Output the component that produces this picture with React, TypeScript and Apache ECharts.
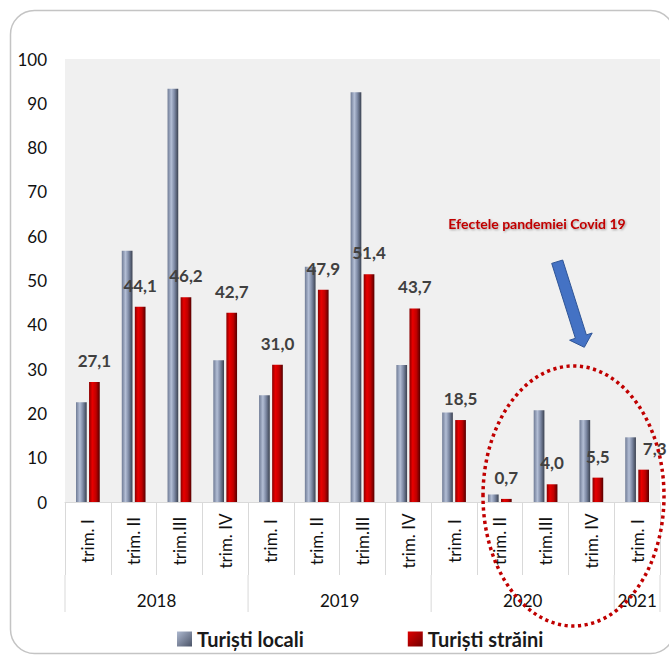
import React, { useEffect, useRef } from "react";
import * as echarts from "echarts";

// ---- data ----
const quarterLabels = ["trim. I", "trim. II", "trim.III", "trim. IV", "trim. I", "trim. II", "trim.III", "trim. IV", "trim. I", "trim. II", "trim.III", "trim. IV", "trim. I"];
const categoryKeys = ["2018 Q1", "2018 Q2", "2018 Q3", "2018 Q4", "2019 Q1", "2019 Q2", "2019 Q3", "2019 Q4", "2020 Q1", "2020 Q2", "2020 Q3", "2020 Q4", "2021 Q1"];
const yearLabels = ["2018", "2019", "2020", "2021"];
const yearCounts = [4, 4, 4, 1];
const localTourists = [22.5, 56.7, 93.3, 32.0, 24.1, 53.1, 92.5, 30.9, 20.2, 1.7, 20.7, 18.5, 14.6];
const foreignTourists = [27.1, 44.1, 46.2, 42.7, 31.0, 47.9, 51.4, 43.7, 18.5, 0.7, 4.0, 5.5, 7.3];
const seriesNames = ["Turiști locali", "Turiști străini"];
const yMin = 0;
const yMax = 100;
const yInterval = 10;
const annotationText = "Efectele pandemiei Covid 19";

const FONT = "Lato, 'Open Sans', sans-serif";

const grayGrad = new echarts.graphic.LinearGradient(0, 0, 1, 0, [
  { offset: 0, color: "#6f7b95" },
  { offset: 0.35, color: "#b3bed5" },
  { offset: 0.65, color: "#7c88a3" },
  { offset: 1, color: "#3a4150" },
]);
const redGrad = new echarts.graphic.LinearGradient(0, 0, 1, 0, [
  { offset: 0, color: "#8a0000" },
  { offset: 0.3, color: "#e80000" },
  { offset: 0.65, color: "#c00000" },
  { offset: 1, color: "#560000" },
]);
const grayIcon = new echarts.graphic.LinearGradient(0, 0, 1, 1, [
  { offset: 0, color: "#aeb9d0" },
  { offset: 1, color: "#4a5367" },
]);
const redIcon = new echarts.graphic.LinearGradient(0, 0, 1, 1, [
  { offset: 0, color: "#e00000" },
  { offset: 1, color: "#700000" },
]);

const fmt = (v: number) => v.toFixed(1).replace(".", ",");

export default function App() {
  const ref = useRef<HTMLDivElement>(null);
  useEffect(() => {
    if (!ref.current) return;
    const chart = echarts.init(ref.current, null, { renderer: "svg" });
    const option: any = {
      animation: false,
      backgroundColor: "#ffffff",
      textStyle: { fontFamily: FONT },
      grid: {
        left: 65,
        right: 9,
        top: 59,
        bottom: 158,
        show: true,
        backgroundColor: "#f0f0f0",
        borderWidth: 0,
        containLabel: false,
        outerBoundsMode: "none",
      },
      legend: {
        data: [
          { name: seriesNames[0], itemStyle: { color: grayIcon } },
          { name: seriesNames[1], itemStyle: { color: redIcon } },
        ],
        left: 172,
        top: 624,
        itemWidth: 15,
        itemHeight: 15,
        itemGap: 104,
        icon: "path://M0 0H10V10H0Z",
        textStyle: { fontFamily: FONT, fontWeight: "bold", fontSize: 20, color: "#1a1a1a" },
      },
      xAxis: {
        type: "category",
        data: categoryKeys,
        boundaryGap: true,
        axisLine: { show: true, lineStyle: { color: "#d9d9d9", width: 1 } },
        axisTick: { show: true, length: 73, interval: 0, lineStyle: { color: "#d9d9d9", width: 1 } },
        axisLabel: {
          interval: 0,
          rotate: 90,
          align: "center",
          verticalAlign: "middle",
          margin: 39,
          fontFamily: FONT,
          fontSize: 17,
          color: "#111",
          formatter: (_v: string, i: number) => quarterLabels[i],
        },
        splitLine: { show: false },
      },
      yAxis: {
        type: "value",
        min: yMin,
        max: yMax,
        interval: yInterval,
        axisLine: { show: false },
        axisTick: { show: false },
        splitLine: { show: false },
        axisLabel: { fontFamily: FONT, fontSize: 17, color: "#111", margin: 18 },
      },
      series: [
        {
          name: seriesNames[0],
          type: "bar",
          data: localTourists,
          barWidth: 10.7,
          barGap: "22%",
          itemStyle: { color: grayGrad },
        },
        {
          name: seriesNames[1],
          type: "bar",
          data: foreignTourists.map((v, i) =>
            i === foreignTourists.length - 1 ? { value: v, label: { offset: [11, 0] } } : v
          ),
          barWidth: 10.7,
          barGap: "22%",
          itemStyle: { color: redGrad },
          label: {
            show: true,
            position: "top",
            distance: 13,
            fontFamily: FONT,
            fontWeight: "bold",
            fontSize: 17,
            color: "#404040",
            formatter: (p: any) => fmt(p.value),
          },
        },
      ],
    };
    chart.setOption(option);

    const cx = (i: number) => chart.convertToPixel({ xAxisIndex: 0 }, categoryKeys[i]) as number;
    const bw = cx(1) - cx(0);
    const bound = (i: number) => cx(0) - bw / 2 + i * bw;
    const yBase = chart.convertToPixel({ yAxisIndex: 0 }, 0) as number;

    const elements: any[] = [];
    elements.push({
      type: "rect",
      shape: { x: 10.5, y: 10.5, width: 664, height: 643, r: 24 },
      style: { fill: "none", stroke: "#c4c4c4", lineWidth: 1.5 },
      z: 1,
    });
    let start = 0;
    const boundaries = [0];
    yearCounts.forEach((c) => {
      start += c;
      boundaries.push(start);
    });
    boundaries.forEach((b) => {
      elements.push({
        type: "line",
        shape: { x1: bound(b), y1: yBase + 73, x2: bound(b), y2: yBase + 110 },
        style: { stroke: "#d9d9d9", lineWidth: 1 },
        z: 5,
      });
    });
    for (let k = 0; k < yearLabels.length; k++) {
      const mid = (bound(boundaries[k]) + bound(boundaries[k + 1])) / 2;
      elements.push({
        type: "text",
        x: mid,
        y: yBase + 98,
        style: {
          text: yearLabels[k],
          fontFamily: FONT,
          fontSize: 17,
          fill: "#111",
          align: "center",
          verticalAlign: "middle",
        },
        z: 5,
      });
    }
    elements.push({
      type: "text",
      x: 537,
      y: 223,
      style: {
        text: annotationText,
        fontFamily: FONT,
        fontWeight: "bold",
        fontSize: 14,
        fill: "#c00000",
        align: "center",
        verticalAlign: "middle",
        textShadowColor: "rgba(0,0,0,0.35)",
        textShadowBlur: 2,
        textShadowOffsetX: 1,
        textShadowOffsetY: 1,
      },
      z: 50,
    });
    elements.push({
      type: "polygon",
      shape: {
        points: [
          [562.7, 260.0],
          [586.4, 334.9],
          [592.2, 333.0],
          [584.3, 347.3],
          [569.6, 340.2],
          [575.4, 338.3],
          [551.7, 263.4],
        ],
      },
      style: { fill: "#4472c4", stroke: "#2f5597", lineWidth: 1 },
      z: 50,
    });
    elements.push({
      type: "ellipse",
      shape: { cx: 573.5, cy: 496, rx: 90.5, ry: 130 },
      style: { fill: "none", stroke: "#c00000", lineWidth: 3.5, lineDash: [3.2, 3.5] },
      z: 100,
    });
    chart.setOption({ graphic: elements });

    return () => chart.dispose();
  }, []);
  return (
    <div
      ref={ref}
      style={{ position: "fixed", left: 0, top: 0, width: 669, height: 660, background: "#fff" }}
    />
  );
}
